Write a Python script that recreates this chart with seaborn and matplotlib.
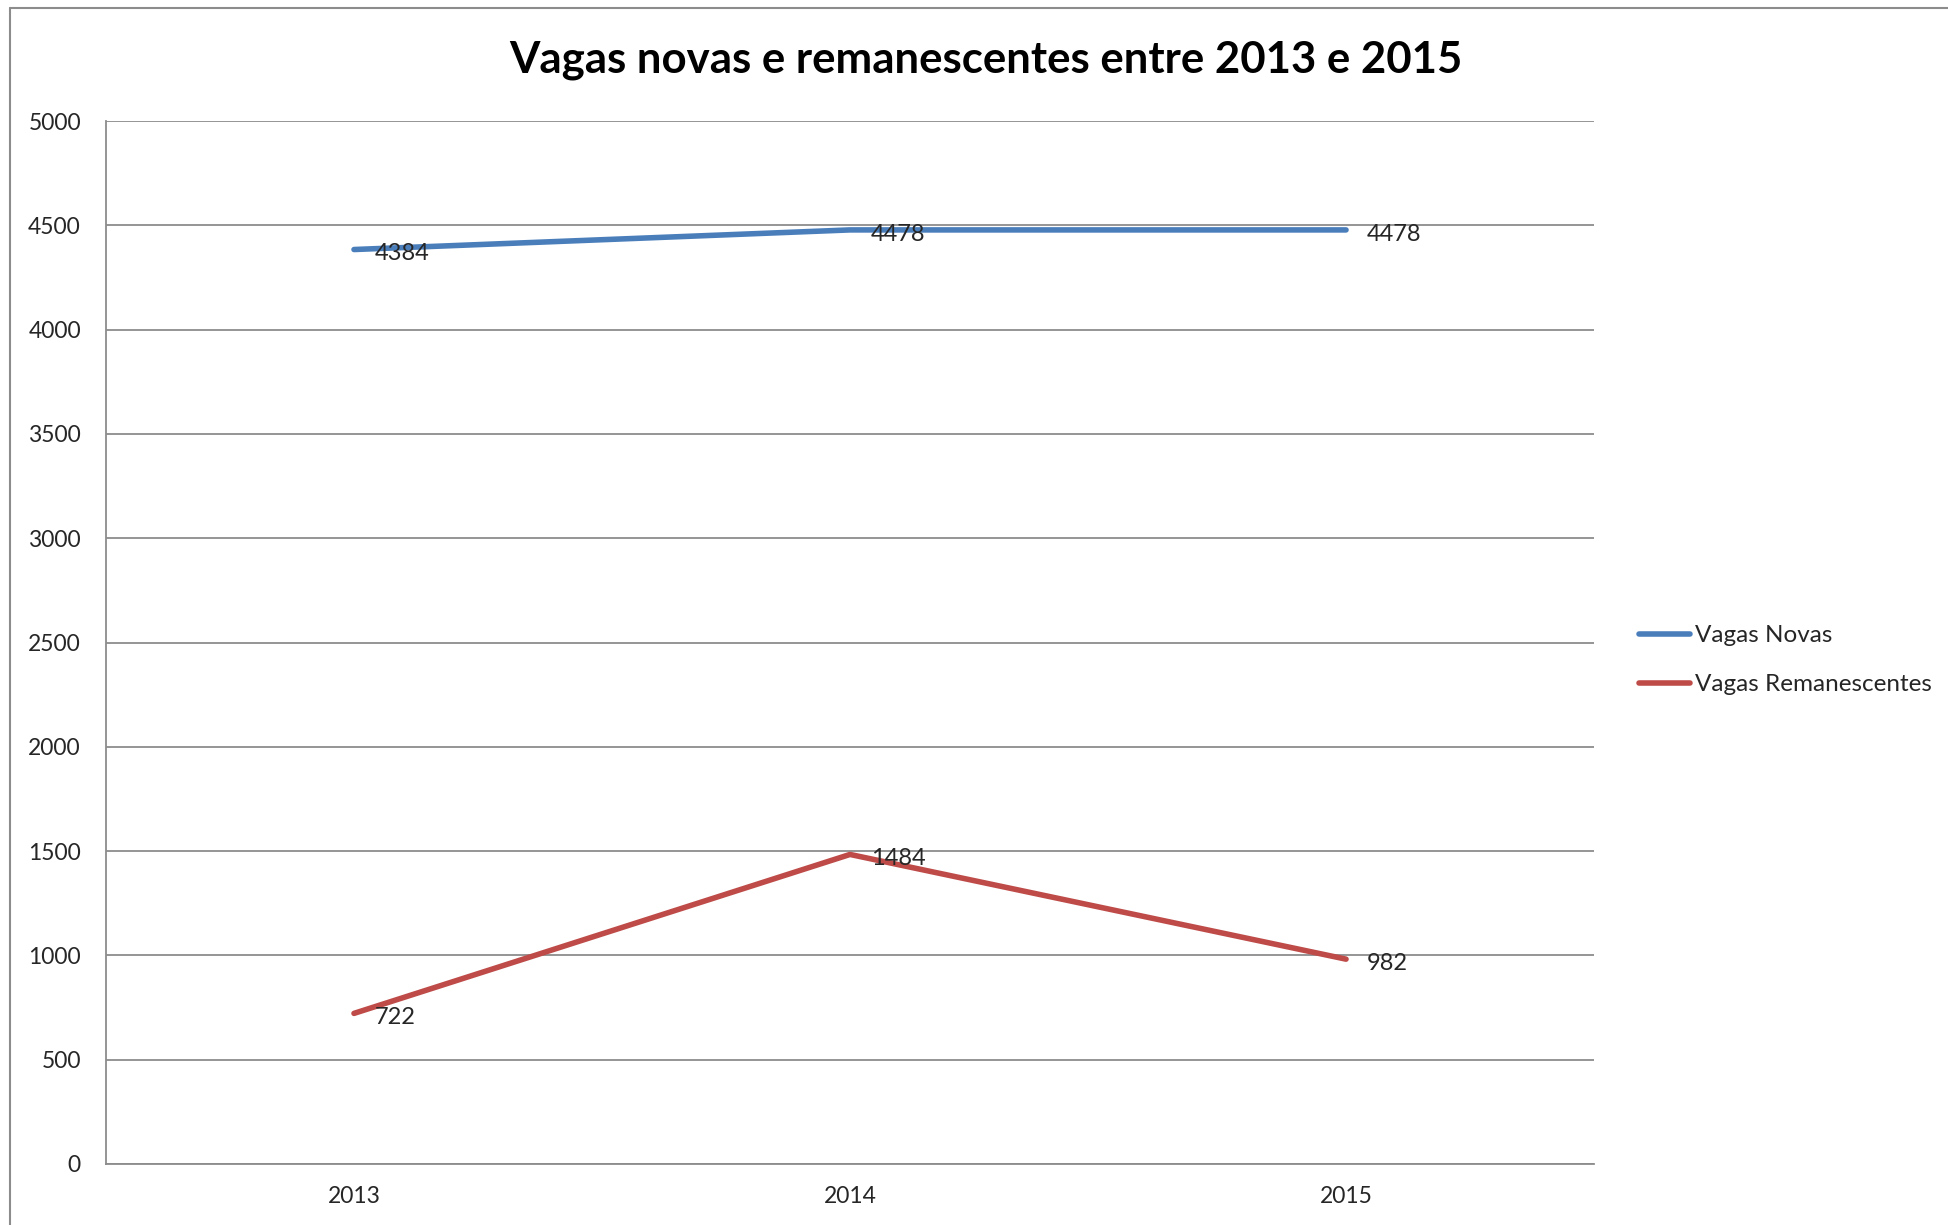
import pandas as pd
import seaborn as sns
import matplotlib.pyplot as plt
from matplotlib.lines import Line2D

# chart data
anos = ["2013", "2014", "2015"]
vagas_novas = [4384, 4478, 4478]
vagas_remanescentes = [722, 1484, 982]
series_names = ["Vagas Novas", "Vagas Remanescentes"]
colors = ["#4A7EBB", "#BE4B48"]

df = pd.DataFrame({
    "ano": anos * 2,
    "x": list(range(len(anos))) * 2,
    "valor": vagas_novas + vagas_remanescentes,
    "serie": [series_names[0]] * len(anos) + [series_names[1]] * len(anos),
})

sns.set_style("white")
plt.rcParams['font.family'] = ['Lato', 'DejaVu Sans']

fig = plt.figure(figsize=(19.48, 12.25), dpi=100)
ax = fig.add_axes([0.0544, 0.0498, 0.7639, 0.8514])

sns.lineplot(data=df, x="x", y="valor", hue="serie", palette=colors,
             linewidth=4, ax=ax, legend=False, solid_capstyle="round")

# data labels
for _, row in df.iterrows():
    ax.annotate(f"{row['valor']}", (row["x"], row["valor"]), xytext=(15, -3),
                textcoords="offset points", ha="left", va="center", fontsize=17)

ax.set_xlim(-0.5, 2.5)
ax.set_ylim(0, 5000)
ax.set_yticks(range(0, 5001, 500))
ax.set_xticks(range(len(anos)))
ax.set_xticklabels(anos)
ax.tick_params(axis="y", labelsize=16.5, length=0, pad=18)
ax.tick_params(axis="x", labelsize=16.5, length=0, pad=16)
ax.set_xlabel("")
ax.set_ylabel("")
ax.grid(axis="y", color="#8c8c8c", linewidth=1.3)
ax.set_axisbelow(True)
for s in ["top", "right"]:
    ax.spines[s].set_visible(False)
for s in ["left", "bottom"]:
    ax.spines[s].set_color("#8c8c8c")
    ax.spines[s].set_linewidth(1.3)

fig.suptitle("Vagas novas e remanescentes entre 2013 e 2015", fontsize=31.5,
             fontweight="bold", x=0.506, y=0.951, va="center", color="black")

# legend
handles = [Line2D([0], [0], color=c, linewidth=4, solid_capstyle="round") for c in colors]
fig.legend(handles, series_names, loc="center left", bbox_to_anchor=(0.830, 0.461),
           frameon=False, fontsize=17.5, handlelength=2.1, handletextpad=0.2,
           labelspacing=1.15)

# outer chart border
fig.add_artist(Line2D([0.0051, 0.0051], [0, 0.9935], color="#8c8c8c", linewidth=1.5))
fig.add_artist(Line2D([0.0051, 1], [0.9935, 0.9935], color="#8c8c8c", linewidth=1.5))

fig.savefig("out.png", dpi=100)
